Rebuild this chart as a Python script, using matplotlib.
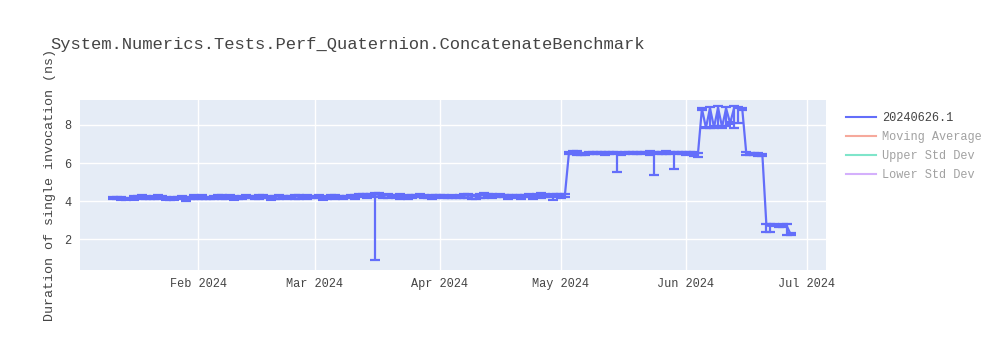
import matplotlib
matplotlib.use('Agg')
import matplotlib.pyplot as plt
import matplotlib.dates as mdates
from matplotlib.lines import Line2D
import numpy as np
import pandas as pd

plt.rcParams['font.family'] = ['Liberation Mono', 'DejaVu Sans']

title = 'System.Numerics.Tests.Perf_Quaternion.ConcatenateBenchmark'
ylabel = 'Duration of single invocation (ns)'
series_names = ['20240626.1', 'Moving Average', 'Upper Std Dev', 'Lower Std Dev']

start_date = '2024-01-11'
end_date = '2024-06-27'

# daily values
jan_vals = [4.18, 4.16, 4.14, 4.11, 4.13, 4.17, 4.21, 4.23, 4.18, 4.14, 4.19, 4.24, 4.21, 4.16, 4.13, 4.16, 4.20, 4.18, 4.15, 4.19, 4.22]
feb_vals = [4.20, 4.23, 4.18, 4.16, 4.21, 4.24, 4.22, 4.19, 4.25, 4.21, 4.17, 4.20, 4.26, 4.23, 4.19, 4.22, 4.24, 4.20, 4.18, 4.21,
            4.25, 4.22, 4.19, 4.23, 4.26, 4.22, 4.20, 4.24, 4.21]
mar_vals = [4.22, 4.25, 4.20, 4.18, 4.23, 4.26, 4.22, 4.19, 4.24, 4.27, 4.25, 4.29, 4.31, 4.28, 4.30, 4.35, 4.33, 4.27, 4.32, 4.29,
            4.25, 4.28, 4.24, 4.22, 4.26, 4.28, 4.30, 4.27, 4.24, 4.22, 4.25]
apr_vals = [4.27, 4.23, 4.20, 4.24, 4.22, 4.26, 4.28, 4.30, 4.27, 4.25, 4.29, 4.33, 4.31, 4.28, 4.26, 4.30, 4.27, 4.24, 4.28, 4.26,
            4.23, 4.27, 4.29, 4.25, 4.30, 4.33, 4.31, 4.28, 4.30, 4.32]
may_vals = [4.30, 4.31, 6.52, 6.55, 6.53, 6.50, 6.48, 6.52, 6.54, 6.55, 6.53, 6.51, 6.54, 6.52, 6.50, 6.48, 6.52, 6.55, 6.53, 6.51,
            6.54, 6.56, 6.53, 6.50, 6.52, 6.54, 6.55, 6.53, 6.50, 6.52, 6.54]
jun_vals = [6.50, 6.52, 6.48, 6.45, 8.85, 7.85, 8.88, 7.88, 8.90, 7.90, 8.86, 8.10, 8.90, 8.88, 8.85, 6.52, 6.50, 6.47, 6.45, 6.42,
            2.72, 2.70, 2.74, 2.71, 2.73, 2.72, 2.27]

# lower error (std dev) per day
jan_err = [0.05, 0.04, 0.08, 0.06, 0.03, 0.10, 0.05, 0.12, 0.07, 0.04, 0.09, 0.11, 0.05, 0.08, 0.06, 0.10, 0.04, 0.07, 0.12, 0.05, 0.08]
feb_err = [0.08, 0.12, 0.05, 0.04, 0.10, 0.06, 0.11, 0.05, 0.09, 0.13, 0.04, 0.07, 0.10, 0.05, 0.08, 0.12, 0.06, 0.04, 0.10, 0.07,
           0.11, 0.05, 0.09, 0.06, 0.12, 0.08, 0.05, 0.10, 0.06]
mar_err = [0.06, 0.10, 0.12, 0.05, 0.08, 0.13, 0.06, 0.10, 0.05, 0.09, 0.12, 0.07, 0.05, 0.10, 0.06, 3.45, 0.11, 0.08, 0.13, 0.06,
           0.10, 0.14, 0.05, 0.09, 0.07, 0.04, 0.06, 0.10, 0.05, 0.08, 0.06]
apr_err = [0.05, 0.08, 0.04, 0.06, 0.03, 0.07, 0.12, 0.15, 0.18, 0.14, 0.12, 0.16, 0.08, 0.10, 0.05, 0.09, 0.06, 0.12, 0.04, 0.07,
           0.10, 0.05, 0.08, 0.12, 0.06, 0.15, 0.09, 0.05, 0.25, 0.10]
may_err = [0.12, 0.10, 0.04, 0.06, 0.10, 0.05, 0.03, 0.04, 0.06, 0.05, 0.04, 0.07, 0.05, 0.04, 0.95, 0.06, 0.05, 0.04, 0.03, 0.05,
           0.06, 0.04, 0.10, 1.13, 0.05, 0.04, 0.06, 0.03, 0.83, 0.05, 0.04]
jun_err = [0.08, 0.05, 0.10, 0.12, 0.05, 0.03, 1.02, 0.05, 0.95, 0.04, 0.90, 0.05, 1.05, 0.78, 0.06, 0.07, 0.05, 0.06, 0.08, 0.05,
           0.35, 0.30, 0.05, 0.04, 0.06, 0.50, 0.05]

dates = pd.date_range(start_date, end_date, freq='D')
vals = np.array(jan_vals + feb_vals + mar_vals + apr_vals + may_vals + jun_vals)
err_lo = np.array(jan_err + feb_err + mar_err + apr_err + may_err + jun_err)
err_hi = np.minimum(err_lo, 0.08)

line_color = '#636efa'
other_colors = ['#EF553B', '#00cc96', '#ab63fa']
text_color = '#444444'

fig = plt.figure(figsize=(10, 3.5), dpi=100)
ax = fig.add_axes([0.08, 80 / 350, 0.7457, 170 / 350])
ax.set_facecolor('#e5ecf6')

ax.errorbar(dates, vals, yerr=[err_lo, err_hi], color=line_color, lw=1.6,
            elinewidth=1.6, capsize=3.5, capthick=1.6, zorder=3)

ax.set_xlim(pd.Timestamp('2024-01-02 17:00'), pd.Timestamp('2024-07-05 17:00'))
ax.set_ylim(0.39, 9.31)
ax.set_yticks([2, 4, 6, 8])
ax.xaxis.set_major_locator(mdates.MonthLocator(bymonth=[2, 3, 4, 5, 6, 7]))
ax.xaxis.set_major_formatter(mdates.DateFormatter('%b %Y'))

ax.grid(True, color='white', lw=1)
ax.set_axisbelow(True)
for s in ax.spines.values():
    s.set_visible(False)
ax.tick_params(length=0, labelsize=8.6, labelcolor=text_color, pad=6)

ax.set_ylabel(ylabel, fontsize=9.6, color=text_color, labelpad=6)
fig.text(0.05, 1 - 45 / 350, title, fontsize=12.3, color=text_color, va='center', ha='left')

handles = [Line2D([], [], color=line_color, lw=1.5)]
for c in other_colors:
    handles.append(Line2D([], [], color=c, lw=1.5, alpha=0.5))
leg = fig.legend(handles, series_names, loc='upper left', bbox_to_anchor=(0.846, 1 - 112 / 350),
                 frameon=False, fontsize=8.6, handlelength=2.5, handletextpad=0.5,
                 labelspacing=0.6, borderaxespad=0, borderpad=0)
for i, t in enumerate(leg.get_texts()):
    t.set_color(text_color)
    if i > 0:
        t.set_alpha(0.5)

fig.savefig('out.png', dpi=100)
